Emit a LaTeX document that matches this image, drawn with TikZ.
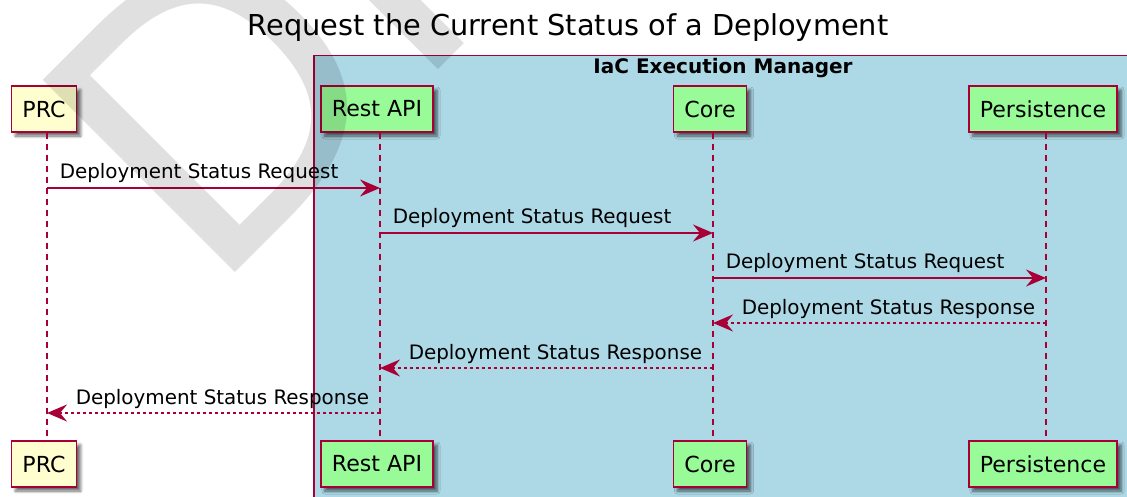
\documentclass[tikz,border=0pt]{standalone}
\usepackage{fontspec}
\setmainfont{DejaVu Sans}
\usetikzlibrary{arrows.meta,shadows.blur}

\definecolor{umlred}{HTML}{A80036}
\definecolor{prcyellow}{HTML}{FEFECE}
\definecolor{compgreen}{HTML}{98FB98}
\definecolor{iemblue}{HTML}{ADD8E6}

\def\titlefont{\fontsize{28.8}{34}\selectfont}
\def\partfont{\fontsize{22.1}{26}\selectfont}
\def\msgfont{\fontsize{19.9}{24}\selectfont}
\def\groupfont{\fontsize{20}{24}\selectfont\bfseries}
\def\draftfont{\fontsize{373}{373}\selectfont}

\tikzset{
  part/.style={draw=umlred, line width=1.5pt, minimum height=46pt,
    inner xsep=11pt, inner ysep=0pt, font=\partfont,
    blur shadow={shadow xshift=4pt, shadow yshift=-4pt,
      shadow blur steps=6, shadow blur radius=3pt, shadow opacity=60}},
  lifeline/.style={umlred, line width=1.5pt, dash pattern=on 6pt off 5pt},
  msg/.style={umlred, line width=1.5pt,
    -{Stealth[length=20pt, width=17pt, inset=7pt]}},
  reply/.style={msg, dash pattern=on 3pt off 3pt},
  msglabel/.style={anchor=base west, inner sep=0pt, yshift=9pt,
    text=black, font=\msgfont},
}

\begin{document}
\begin{tikzpicture}[x=1pt, y=-1pt]
  \useasboundingbox (0,0) rectangle (1127,497);
  \clip (0,0) rectangle (1127,497);

  \node[anchor=base, font=\titlefont] (title) at (568,36)
    {Request the Current Status of a Deployment};

  % box round the manager
  \node[draw=umlred, line width=1.5pt, fill=iemblue, anchor=north west,
    minimum width=830pt, minimum height=460pt, inner sep=0pt] (iem) at (313,55) {};
  \node[anchor=base, font=\groupfont] (iemtitle) at (723,74) {IaC Execution Manager};

  \coordinate (prc)  at (47,0);
  \coordinate (rest) at (380,0);
  \coordinate (core) at (713,0);
  \coordinate (pers) at (1046,0);

  \foreach \n/\t/\c in {prc/PRC/prcyellow, rest/Rest API/compgreen,
                        core/Core/compgreen, pers/Persistence/compgreen} {
    \node[part, fill=\c, xshift=-3pt] (\n-top) at (\n |- 0,109) {\t};
    \node[part, fill=\c, xshift=-3pt] (\n-bot) at (\n |- 0,464) {\t};
    \draw[lifeline] ([xshift=3pt]\n-top.south) -- ([xshift=3pt]\n-bot.north);
  }

  \foreach \src/\dst/\y in {prc/rest/188, rest/core/233, core/pers/278}
    \draw[msg] (\src |- 0,\y) -- node[msglabel, pos=0, xshift=12pt]
      {Deployment Status Request} (\dst |- 0,\y);
  \foreach \src/\dst/\y in {pers/core/323, core/rest/368, rest/prc/413}
    \draw[reply] (\src |- 0,\y) -- node[msglabel, pos=1, xshift=28pt]
      {Deployment Status Response} (\dst |- 0,\y);

  % watermark
  \node[rotate=45, anchor=base west, inner sep=0pt, font=\draftfont,
    text=black, text opacity=0.12] (draft) at (209,299) {DRAFT};
\end{tikzpicture}
\end{document}
